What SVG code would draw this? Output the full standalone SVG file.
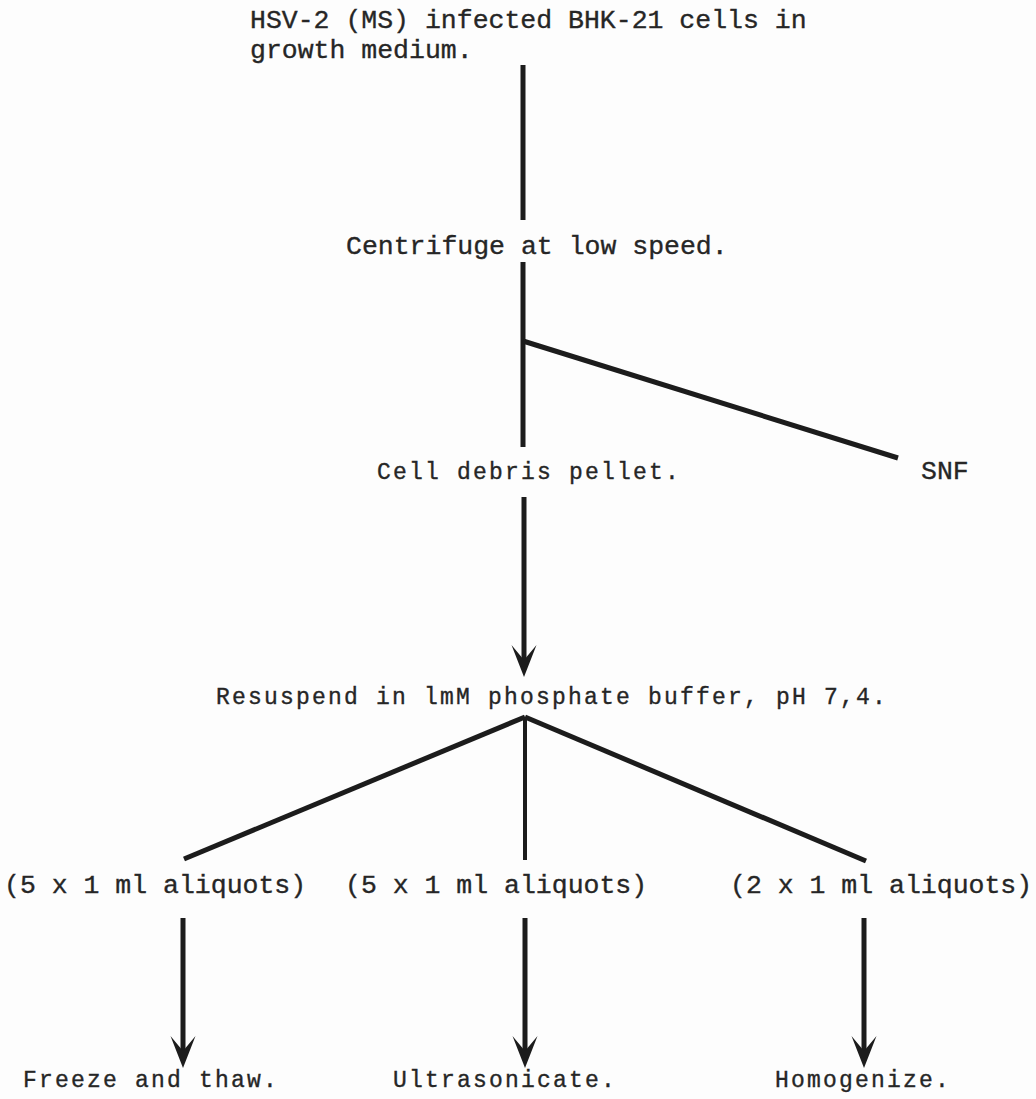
<svg xmlns="http://www.w3.org/2000/svg" width="1036" height="1099" viewBox="0 0 1036 1099">
<style>
.t1{font-family:"Liberation Mono","Courier New",monospace;font-size:26.5px;fill:#262626;stroke:#262626;stroke-width:0.35px}
.t2{font-family:"Liberation Mono","Courier New",monospace;font-size:23px;letter-spacing:2.2px;fill:#262626;stroke:#262626;stroke-width:0.35px}
.ln{stroke:#1c1c1c;stroke-width:5;fill:none;stroke-linecap:butt}
.thin{stroke-width:4}
</style>
<defs>
<marker id="arr" viewBox="-16 -14 34 28" refX="0" refY="0" markerWidth="34" markerHeight="28" markerUnits="userSpaceOnUse" orient="auto">
<path d="M17,0 L-15,-12.5 L0,0 L-15,12.5 Z" fill="#1c1c1c"/>
</marker>
</defs>
<rect width="1036" height="1099" fill="#fdfdfd"/>
<g id="n-start"><text class="t1" x="250" y="28">HSV-2 (MS) infected BHK-21 cells in</text><text class="t1" x="250" y="58">growth medium.</text></g>
<g id="n-centrifuge"><text class="t1" x="346" y="254">Centrifuge at low speed.</text></g>
<g id="n-pellet"><text class="t2" x="377" y="479">Cell debris pellet.</text></g>
<g id="n-snf"><text class="t1" x="921" y="479">SNF</text></g>
<g id="n-resuspend"><text class="t2" x="216" y="704">Resuspend in lmM phosphate buffer, pH 7,4.</text></g>
<g id="n-aliq1"><text class="t1" x="4" y="893">(5 x 1 ml aliquots)</text></g>
<g id="n-aliq2"><text class="t1" x="345" y="893">(5 x 1 ml aliquots)</text></g>
<g id="n-aliq3"><text class="t1" x="730" y="893">(2 x 1 ml aliquots)</text></g>
<g id="n-freeze"><text class="t2" x="23" y="1087">Freeze and thaw.</text></g>
<g id="n-ultra"><text class="t2" x="393" y="1087">Ultrasonicate.</text></g>
<g id="n-homog"><text class="t2" x="775" y="1087">Homogenize.</text></g>
<g id="connectors">
<line class="ln" x1="523" y1="65" x2="523" y2="220"/>
<line class="ln" x1="523" y1="262" x2="523" y2="447"/>
<line class="ln" x1="523" y1="341" x2="898" y2="458"/>
<line class="ln" x1="524" y1="497" x2="524" y2="660" marker-end="url(#arr)"/>
<line class="ln" x1="525" y1="717" x2="184" y2="859"/>
<line class="ln thin" x1="525" y1="717" x2="525" y2="860"/>
<line class="ln" x1="525" y1="717" x2="866" y2="861"/>
<line class="ln" x1="183" y1="918" x2="183" y2="1051" marker-end="url(#arr)"/>
<line class="ln" x1="525" y1="918" x2="525" y2="1051" marker-end="url(#arr)"/>
<line class="ln" x1="864" y1="918" x2="864" y2="1051" marker-end="url(#arr)"/>
</g>
</svg>
